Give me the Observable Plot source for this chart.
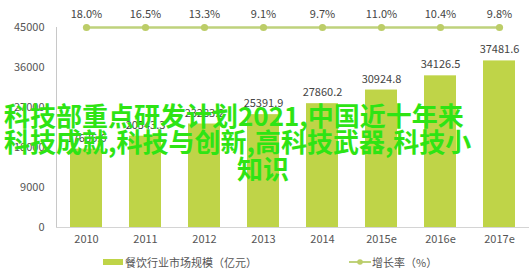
<!DOCTYPE html>
<html>
<head>
<meta charset="utf-8">
<script src="https://cdn.jsdelivr.net/npm/d3@7"></script>
<script src="https://cdn.jsdelivr.net/npm/@observablehq/plot@0.6"></script>
<style>
  html, body { margin: 0; padding: 0; background: #fff; }
  #wrap { position: relative; width: 529px; height: 277px; overflow: hidden; font-family: "Noto Sans CJK SC", "Noto Sans", sans-serif; }
  #legend { position: absolute; left: 0; top: 253px; width: 529px; height: 18px; font-size: 11px; color: #555; }
  .lg { position: absolute; top: 0; display: flex; align-items: center; height: 18px; white-space: nowrap; }
  .overlay { position: absolute; font-family: "Noto Sans CJK SC", sans-serif; font-weight: bold; font-size: 26px; line-height: 26px; color: #2ee414; white-space: nowrap; }
</style>
</head>
<body>
<div id="wrap">
  <div id="chart"></div>
  <div id="legend"></div>
  <div class="overlay" style="left:4px; top:102px;">科技部重点研发计划2021,中国近十年来</div>
  <div class="overlay" style="left:4px; top:128px;">科技成就,科技与创新,高科技武器,科技小</div>
  <div class="overlay" style="left:237px; top:155px;">知识</div>
</div>
<script>
const years = ["2010", "2011", "2012", "2013", "2014", "2015e", "2016e", "2017e"];
const marketSize = [17636.6, 20543.3, 23283.2, 25391.9, 27860.2, 30924.8, 34126.5, 37481.6];
const growthRate = [18.0, 16.5, 13.3, 9.1, 9.7, 11.0, 10.4, 9.8];
const yTicks = [0, 9000, 18000, 27000, 36000, 45000];
const barName = "餐饮行业市场规模（亿元）";
const lineName = "增长率（%）";

const barColor = "#bfd448";
const lineColor = "#bfd27c";
const dotColor = "#bccd68";

const yMax = d3.max(yTicks);
const rows = years.map((y, i) => ({year: y, value: marketSize[i], rate: growthRate[i], top: yMax}));

const chart = Plot.plot({
  width: 529,
  height: 250,
  marginLeft: 56,
  marginRight: 0,
  marginTop: 27,
  marginBottom: 23,
  style: {fontFamily: "'Noto Sans CJK SC', 'Noto Sans', sans-serif", fontSize: "11px", color: "#555", background: "#fff"},
  x: {domain: years, paddingInner: 0.46, paddingOuter: 0.214, label: null},
  y: {domain: [0, yMax], label: null},
  marks: [
    Plot.barY(rows, {x: "year", y: "value", fill: barColor}),
    Plot.frame({anchor: "left", stroke: "#c8c8c8"}),
    Plot.frame({anchor: "bottom", stroke: "#d4d4d4"}),
    Plot.axisY({ticks: yTicks, tickSize: 0, tickPadding: 12, tickFormat: d => String(d), fill: "#555", fontSize: 11}),
    Plot.axisX({tickSize: 0, tickPadding: 8, fill: "#555", fontSize: 11}),
    Plot.text(rows, {x: "year", y: "value", text: d => d.value.toFixed(1), dy: -11, fill: "#444", fontSize: 11}),
    Plot.line(rows, {x: "year", y: "top", stroke: lineColor, strokeWidth: 2.5}),
    Plot.dot(rows, {x: "year", y: "top", r: 3.6, fill: dotColor, stroke: null}),
    Plot.text(rows, {x: "year", y: "top", text: d => d.rate.toFixed(1) + "%", dy: -13, fill: "#444", fontSize: 11})
  ]
});
document.getElementById("chart").appendChild(chart);

const legend = document.getElementById("legend");
legend.innerHTML = `
  <div class="lg" style="left:103px;"><svg width="20" height="18"><rect x="0" y="6" width="20" height="6" fill="${barColor}"/></svg><span style="margin-left:2px">${barName}</span></div>
  <div class="lg" style="left:349px;"><svg width="22" height="18"><line x1="0" x2="22" y1="9" y2="9" stroke="${lineColor}" stroke-width="2"/><circle cx="11" cy="9" r="2.8" fill="${dotColor}"/></svg><span style="margin-left:1px">${lineName}</span></div>
`;
</script>
</body>
</html>
